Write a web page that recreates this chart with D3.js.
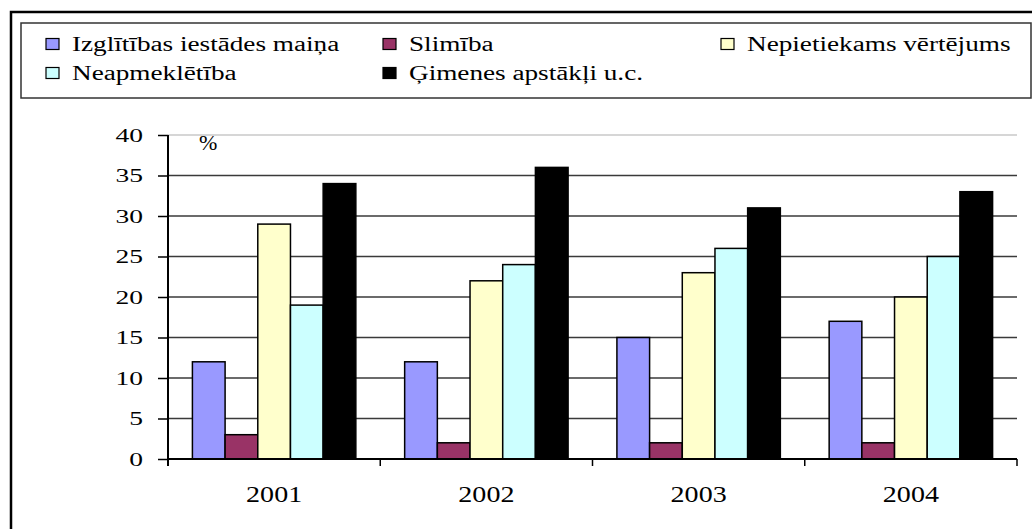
<!DOCTYPE html>
<html><head><meta charset="utf-8">
<script src="https://cdn.jsdelivr.net/npm/d3@7"></script>
<style>body{margin:0;background:#fff}svg{display:block}</style>
</head><body><svg id="c" width="1032" height="529"></svg>
<script>
const years = ["2001","2002","2003","2004"];
const seriesNames = ["Izglītības iestādes maiņa","Slimība","Nepietiekams vērtējums","Neapmeklētība","Ģimenes apstākļi u.c."];
const seriesColors = ["#9999ff","#993366","#ffffcc","#ccffff","#000000"];
const izglitibas = [12,12,15,17];
const slimiba = [3,2,2,2];
const nepietiekams = [29,22,23,20];
const neapmekletiba = [19,24,26,25];
const gimenes = [34,36,31,33];
const yTicks = [0,5,10,15,20,25,30,35,40];
const values = [izglitibas, slimiba, nepietiekams, neapmekletiba, gimenes];

const FONT = "'Liberation Serif','Times New Roman',serif";
const svg = d3.select("#c");
// outer border
svg.append("rect").attr("x",11).attr("y",12).attr("width",1040).attr("height",540)
  .attr("fill","none").attr("stroke","#000").attr("stroke-width",2.5);
// legend box
svg.append("rect").attr("x",21).attr("y",23).attr("width",1010).attr("height",75)
  .attr("fill","#fff").attr("stroke","#333").attr("stroke-width",1.5);

const legendPos = [[46,44],[383,44],[721,44],[46,73],[383,73]];
const lg = svg.append("g");
seriesNames.forEach((n,i)=>{
  const [px,py]=legendPos[i];
  lg.append("rect").attr("x",px).attr("y",py-5.5).attr("width",13).attr("height",11)
    .attr("fill",seriesColors[i]).attr("stroke","#000").attr("stroke-width",1.2);
  lg.append("text").attr("transform",`translate(${px+26},${py+7}) scale(1.36,1)`)
    .style("font-family",FONT).style("font-size","20px").style("fill","#000").text(n);
});

const pLeft=168,pRight=1017,pTop=135,pBottom=459;
const x = d3.scaleBand().domain(years).range([pLeft,pRight]).paddingInner(0.23).paddingOuter(0.115);
const xs = d3.scaleBand().domain(d3.range(5)).range([0,x.bandwidth()]);
const y = d3.scaleLinear().domain([0,40]).range([pBottom,pTop]);

// gridlines
svg.append("g").selectAll("line").data(yTicks.filter(t=>t>0)).join("line")
  .attr("x1",pLeft).attr("x2",pRight).attr("y1",d=>y(d)).attr("y2",d=>y(d))
  .attr("stroke",d=>d===40?"#c8c8c8":"#3a3a3a").attr("stroke-width",1.5);

// bars
years.forEach((yr,j)=>{
  values.forEach((arr,i)=>{
    svg.append("rect").attr("x",x(yr)+xs(i)).attr("y",y(arr[j]))
      .attr("width",xs.bandwidth()).attr("height",pBottom-y(arr[j]))
      .attr("fill",seriesColors[i]).attr("stroke","#000").attr("stroke-width",1.5);
  });
});

// y axis
const ySX = 1.45;
const ya = svg.append("g").attr("transform",`translate(${pLeft},0)`)
  .call(d3.axisLeft(y).tickValues(yTicks).tickSize(10).tickPadding(25));
ya.select(".domain").attr("stroke","#000").attr("stroke-width",2).attr("d",`M0,${pTop}V${pBottom+7}`);
ya.selectAll(".tick line").attr("stroke","#000").attr("stroke-width",1.5);
ya.selectAll("text").attr("x",-25/ySX).attr("transform",`scale(${ySX},1)`)
  .style("font-size","19px").style("font-family",FONT).style("fill","#000");

// x axis
const xa = svg.append("g").attr("transform",`translate(0,${pBottom})`)
  .call(d3.axisBottom(x).tickSize(0).tickPadding(27));
xa.select(".domain").attr("stroke","#000").attr("stroke-width",2).attr("d",`M${pLeft},0H${pRight}`);
xa.selectAll("text").attr("transform","scale(1.22,1)")
  .style("font-size","23px").style("font-family",FONT).style("fill","#000");
const bounds = [pLeft, ...years.map(yr=>x(yr)+x.bandwidth()+x.step()*x.paddingInner()/2).slice(0,3), pRight];
xa.selectAll(".xt").data(bounds).join("line").attr("class","xt")
  .attr("x1",d=>d).attr("x2",d=>d).attr("y1",0).attr("y2",7)
  .attr("stroke","#000").attr("stroke-width",1.5);

svg.append("text").attr("transform","translate(199,150) scale(1.1,1)")
  .style("font-family",FONT).style("font-size","20px").text("%");
</script></body></html>
